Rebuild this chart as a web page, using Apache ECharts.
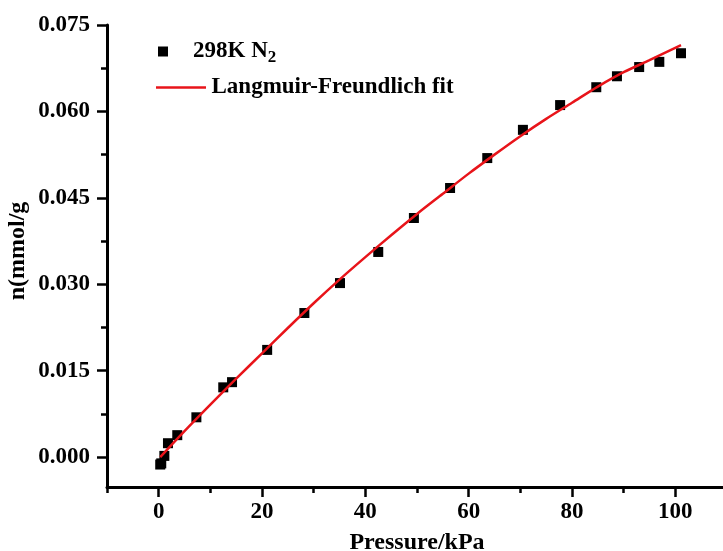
<!DOCTYPE html>
<html>
<head>
<meta charset="utf-8">
<script src="https://cdn.jsdelivr.net/npm/echarts@6/dist/echarts.min.js"></script>
<style>html,body{margin:0;padding:0;background:#fff}#c{width:723px;height:551px}</style>
</head>
<body>
<div id="c"></div>
<script>
// Measured data (298K N2)
const pressure = [0.3, 0.5, 1.1, 1.8, 3.6, 7.3, 12.5, 14.2, 21.0, 28.2, 35.1, 42.5, 49.4, 56.4, 63.6, 70.5, 77.7, 84.7, 88.7, 93.0, 96.9, 101.1];
const uptake   = [-0.0013, -0.0011, 0.0002, 0.0024, 0.0038, 0.0069, 0.0121, 0.0130, 0.0186, 0.0250, 0.0302, 0.0356, 0.0415, 0.0467, 0.0519, 0.0568, 0.0611, 0.0642, 0.0661, 0.0677, 0.0686, 0.0701];
// Langmuir-Freundlich fit curve
const fitP = [0.3, 5, 10, 15, 20, 25, 30, 35, 40, 45, 50, 55, 60, 65, 70, 75, 80, 85, 90, 95, 101.1];
const fitN = [0.0000, 0.0045, 0.0091, 0.0136, 0.0180, 0.0224, 0.0267, 0.0308, 0.0347, 0.0385, 0.0422, 0.0457, 0.0492, 0.0525, 0.0557, 0.0587, 0.0615, 0.0643, 0.0668, 0.0689, 0.0715];
// Ticks
const xMajor = [0, 20, 40, 60, 80, 100];
const xMinor = [-10, 10, 30, 50, 70, 90];
const yMajor = [0, 0.015, 0.030, 0.045, 0.060, 0.075];
const yMinor = [0.0075, 0.0225, 0.0375, 0.0525, 0.0675];

const FONT = 'Liberation Serif';
const RED = '#e8141a';
const chart = echarts.init(document.getElementById('c'));
const axisCommonX = {type: 'value', min: -10, max: 110, gridIndex: 0, splitLine: {show: false}};
const axisCommonY = {type: 'value', min: -0.0052, max: 0.075, gridIndex: 0, splitLine: {show: false}};
chart.setOption({
  backgroundColor: '#fff',
  animation: false,
  grid: {left: 107, top: 25, width: 620, height: 462, containLabel: false, outerBoundsMode: 'none'},
  xAxis: [
    Object.assign({}, axisCommonX, {
      position: 'bottom',
      name: 'Pressure/kPa', nameLocation: 'middle', nameGap: 44,
      nameTextStyle: {fontFamily: FONT, fontWeight: 'bold', fontSize: 24, color: '#000'},
      axisLine: {show: true, onZero: false, lineStyle: {color: '#000', width: 3}},
      axisTick: {show: true, inside: false, length: 10, customValues: xMajor, lineStyle: {color: '#000', width: 2.5}},
      axisLabel: {show: true, margin: 14, customValues: xMajor, fontFamily: FONT, fontWeight: 'bold', fontSize: 23, color: '#000'}
    }),
    Object.assign({}, axisCommonX, {
      position: 'bottom',
      axisLine: {show: false, onZero: false},
      axisTick: {show: true, inside: false, length: 6, customValues: xMinor, lineStyle: {color: '#000', width: 2.5}},
      axisLabel: {show: false}
    })
  ],
  yAxis: [
    Object.assign({}, axisCommonY, {
      position: 'left',
      name: 'n(mmol/g', nameLocation: 'middle', nameGap: 77, nameRotate: 90, nameMoveOverlap: false,
      nameTextStyle: {fontFamily: FONT, fontWeight: 'bold', fontSize: 24, color: '#000', padding: [0, 0, 0, 10]},
      axisLine: {show: true, onZero: false, lineStyle: {color: '#000', width: 3}},
      axisTick: {show: true, inside: false, length: 10, customValues: yMajor, lineStyle: {color: '#000', width: 2.5}},
      axisLabel: {show: true, margin: 17, customValues: yMajor, fontFamily: FONT, fontWeight: 'bold', fontSize: 23, color: '#000',
        formatter: v => v.toFixed(3)}
    }),
    Object.assign({}, axisCommonY, {
      position: 'left',
      axisLine: {show: false, onZero: false},
      axisTick: {show: true, inside: false, length: 6, customValues: yMinor, lineStyle: {color: '#000', width: 2.5}},
      axisLabel: {show: false}
    })
  ],
  legend: [
    {
      data: [{name: '298K N2', icon: 'rect'}],
      left: 158, top: 40, itemWidth: 10, itemHeight: 10, padding: 0,
      formatter: () => '{a|298K N}{s|2}',
      textStyle: {padding: [0, 0, 0, 20], rich: {
        a: {fontFamily: FONT, fontWeight: 'bold', fontSize: 23, color: '#000'},
        s: {fontFamily: FONT, fontWeight: 'bold', fontSize: 17, color: '#000', padding: [12, 0, 0, 0]}
      }}
    },
    {
      data: [{name: 'Langmuir-Freundlich fit', icon: 'path://M0,0 L100,0 L100,5 L0,5 Z', itemStyle: {color: RED}}],
      left: 156, top: 76, itemWidth: 51, itemHeight: 2.5, padding: 0,
      textStyle: {fontFamily: FONT, fontWeight: 'bold', fontSize: 23, color: '#000'}
    }
  ],
  series: [
    {
      name: 'Langmuir-Freundlich fit', type: 'line', xAxisIndex: 0, yAxisIndex: 0,
      data: fitP.map((p, i) => [p, fitN[i]]),
      symbol: 'none', smooth: 0.3,
      lineStyle: {color: RED, width: 2.5}, itemStyle: {color: RED}, z: 3
    },
    {
      name: '298K N2', type: 'scatter', xAxisIndex: 0, yAxisIndex: 0,
      data: pressure.map((p, i) => [p, uptake[i]]),
      symbol: 'rect', symbolSize: 10,
      itemStyle: {color: '#000', opacity: 1}, z: 2
    }
  ]
});
</script>
</body>
</html>
